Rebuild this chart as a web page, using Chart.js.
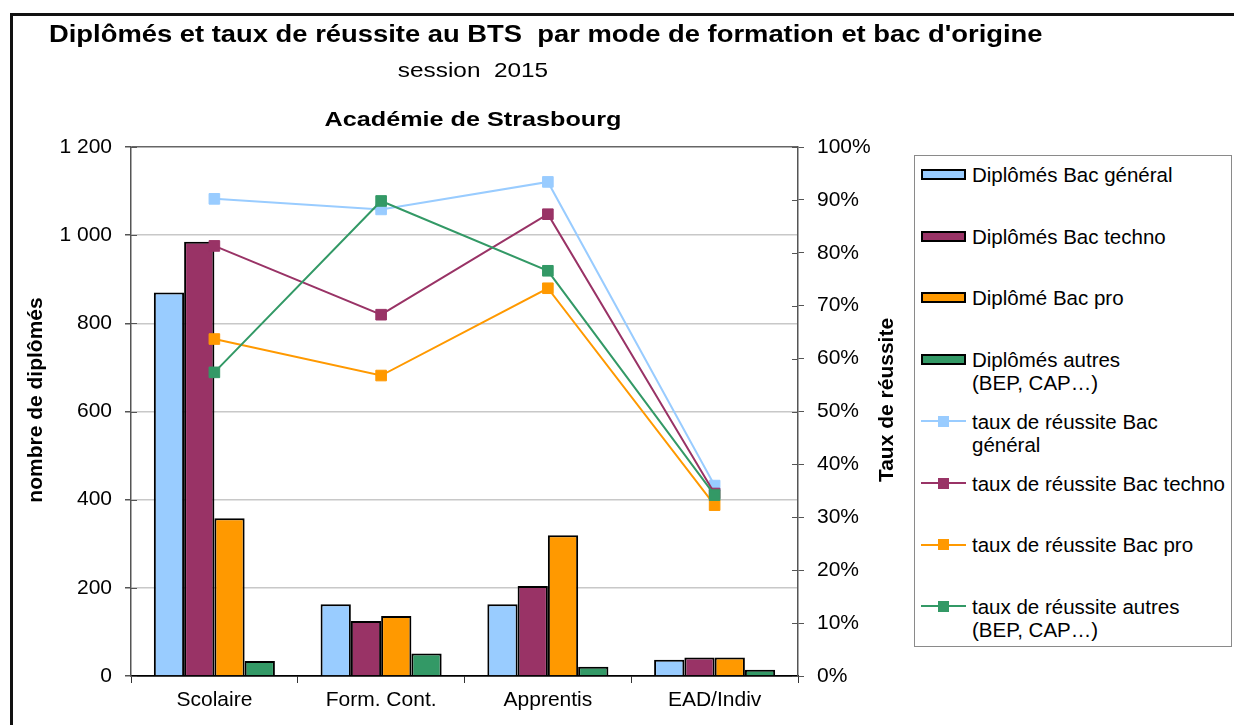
<!DOCTYPE html>
<html lang="fr">
<head>
<meta charset="utf-8">
<title>Diplômés et taux de réussite au BTS</title>
<script src="https://cdn.jsdelivr.net/npm/chart.js@4.4.1/dist/chart.umd.min.js"></script>
<style>
  html, body { margin: 0; padding: 0; background: #fff; }
  body { width: 1234px; height: 725px; position: relative; overflow: hidden; font-family: 'Liberation Sans', Arial, sans-serif; color: #000; }
  #frame { position: absolute; left: 10px; top: 13px; width: 1240px; height: 730px; border: 3px solid #111; box-sizing: border-box; }
  canvas { position: absolute; left: 0; top: 0; }
  .head { position: absolute; white-space: nowrap; }
  #t1 { left: 49px; top: 21px; font-size: 23px; font-weight: bold; line-height: 26px; transform-origin: 0 50%; transform: scaleX(1.19); }
  #t2 { left: 473px; top: 58px; font-size: 21px; line-height: 24px; transform: translateX(-50%) scaleX(1.16); }
  #t3 { left: 473px; top: 107px; font-size: 21px; font-weight: bold; line-height: 24px; transform: translateX(-50%) scaleX(1.2); }
  #legend { position: absolute; left: 914px; top: 155px; width: 318px; height: 492px; border: 1px solid #8a8a8a; box-sizing: border-box; background: #fff; }
  .item { position: absolute; left: 6px; }
  .sym { position: absolute; left: 0; top: 6px; width: 45px; height: 11px; }
  .txt { position: absolute; left: 51px; top: 0; font-size: 20.5px; line-height: 23px; white-space: pre; }
</style>
</head>
<body>
<div id="frame"></div>
<canvas id="chart" width="1234" height="725"></canvas>
<div class="head" id="t1">Diplômés et taux de réussite au BTS&nbsp; par mode de formation et bac d'origine</div>
<div class="head" id="t2">session&nbsp; 2015</div>
<div class="head" id="t3">Académie de Strasbourg</div>
<div id="legend"></div>

<script>
// modes de formation
const categories = ['Scolaire', 'Form. Cont.', 'Apprentis', 'EAD/Indiv'];

// nombre de diplômés par bac d'origine
const diplGeneral = [870, 163, 163, 37];
const diplTechno = [985, 125, 204, 42];
const diplPro = [358, 136, 319, 42];
const diplAutres = [34, 51, 21, 14];

// taux de réussite (%) par bac d'origine
const tauxGeneral = [90.2, 88.2, 93.4, 36.0];
const tauxTechno = [81.3, 68.3, 87.3, 34.5];
const tauxPro = [63.7, 56.8, 73.3, 32.3];
const tauxAutres = [57.4, 89.8, 76.6, 34.2];

const countTicks = [0, 200, 400, 600, 800, 1000, 1200];
const rateTicks = [0, 10, 20, 30, 40, 50, 60, 70, 80, 90, 100];

const BLUE = '#99ccff', PLUM = '#993366', ORANGE = '#ff9900', GREEN = '#339966';
const FONT = "'Liberation Sans', Arial, sans-serif";

Chart.defaults.font.family = FONT;
Chart.defaults.color = '#000';

function barSet(label, data, color) {
  return {
    type: 'bar', label, data, yAxisID: 'y', order: 10,
    backgroundColor: color, borderColor: '#000', borderWidth: 2,
    barPercentage: 1, categoryPercentage: 0.726
  };
}

function lineSet(label, data, color, order) {
  return {
    type: 'line', label, data, yAxisID: 'y1', order,
    borderColor: color, backgroundColor: color, borderWidth: 2, tension: 0,
    pointStyle: 'rect', pointRadius: 7.5, pointHoverRadius: 7.5,
    pointBackgroundColor: color, pointBorderColor: color, pointBorderWidth: 1
  };
}

// petits traits intérieurs des graduations (marques "croisées")
const innerTicks = {
  id: 'innerTicks',
  afterDraw(chart) {
    const ctx = chart.ctx;
    ctx.save();
    ctx.strokeStyle = '#555';
    ctx.lineWidth = 1;
    const y = chart.scales.y, y1 = chart.scales.y1;
    y.ticks.forEach(t => {
      const p = Math.round(y.getPixelForValue(t.value)) + 0.5;
      ctx.beginPath(); ctx.moveTo(y.right, p); ctx.lineTo(y.right + 6, p); ctx.stroke();
    });
    y1.ticks.forEach(t => {
      const p = Math.round(y1.getPixelForValue(t.value)) + 0.5;
      ctx.beginPath(); ctx.moveTo(y1.left - 6, p); ctx.lineTo(y1.left, p); ctx.stroke();
    });
    ctx.restore();
  }
};

// titres des deux axes verticaux, lus de bas en haut
const axisTitles = {
  id: 'axisTitles',
  afterDraw(chart) {
    const ctx = chart.ctx;
    const mid = 400;
    ctx.save();
    ctx.font = 'bold 21px ' + FONT;
    ctx.fillStyle = '#000';
    ctx.textAlign = 'center';
    ctx.textBaseline = 'middle';
    [[36, 'nombre de diplômés'], [887, 'Taux de réussite']].forEach(([x, text]) => {
      ctx.save();
      ctx.translate(x, mid);
      ctx.rotate(-Math.PI / 2);
      ctx.fillText(text, 0, 0);
      ctx.restore();
    });
    ctx.restore();
  }
};

const chart = new Chart(document.getElementById('chart'), {
  data: {
    labels: categories,
    datasets: [
      barSet('Diplômés Bac général', diplGeneral, BLUE),
      barSet('Diplômés Bac techno', diplTechno, PLUM),
      barSet('Diplômé Bac pro', diplPro, ORANGE),
      barSet('Diplômés autres\n(BEP, CAP…)', diplAutres, GREEN),
      lineSet('taux de réussite Bac\ngénéral', tauxGeneral, BLUE, 4),
      lineSet('taux de réussite Bac techno', tauxTechno, PLUM, 3),
      lineSet('taux de réussite Bac pro', tauxPro, ORANGE, 2),
      lineSet('taux de réussite autres\n(BEP, CAP…)', tauxAutres, GREEN, 1)
    ]
  },
  options: {
    responsive: false,
    animation: false,
    devicePixelRatio: 1,
    layout: { padding: { left: 0, top: 147, right: 336, bottom: 9 } },
    plugins: { legend: { display: false }, tooltip: { enabled: false } },
    scales: {
      x: {
        afterFit: s => { s.height = 40; },
        grid: { offset: true, drawOnChartArea: false, tickLength: 7, color: '#333' },
        border: { color: '#000', width: 1.5 },
        ticks: { padding: 5, font: { size: 21 } }
      },
      y: {
        position: 'left', min: 0, max: 1200,
        afterFit: s => { s.width = 131; },
        afterBuildTicks: s => { s.ticks = countTicks.map(v => ({ value: v })); },
        grid: {
          color: c => c.tick.value === 1200 ? '#666' : (c.tick.value === 0 ? '#000' : '#c8c8c8'),
          lineWidth: 1.5, tickLength: 6, tickColor: '#555'
        },
        border: { color: '#555', width: 1.5 },
        ticks: {
          padding: 13, font: { size: 21 },
          callback: v => String(v).replace(/\B(?=(\d{3})+(?!\d))/g, ' ')
        }
      },
      y1: {
        position: 'right', min: 0, max: 100,
        afterFit: s => { s.width = 100; },
        afterBuildTicks: s => { s.ticks = rateTicks.map(v => ({ value: v })); },
        grid: { drawOnChartArea: false, tickLength: 6, color: '#555' },
        border: { color: '#555', width: 1.5 },
        ticks: { padding: 13, font: { size: 21 }, callback: v => v + '%' }
      }
    }
  },
  plugins: [innerTicks, axisTitles]
});

// légende construite à partir des séries du graphique
const legend = document.getElementById('legend');
chart.data.datasets.forEach((ds, i) => {
  const item = document.createElement('div');
  item.className = 'item';
  item.style.top = (7 + i * 61.7) + 'px';
  const sym = document.createElement('div');
  sym.className = 'sym';
  if (ds.type === 'bar') {
    sym.style.background = ds.backgroundColor;
    sym.style.border = '2px solid #000';
    sym.style.boxSizing = 'border-box';
  } else {
    sym.innerHTML =
      '<div style="position:absolute;left:0;right:0;top:4.5px;height:2px;background:' + ds.borderColor + '"></div>' +
      '<div style="position:absolute;left:17px;top:0;width:11px;height:11px;background:' + ds.borderColor + '"></div>';
  }
  const txt = document.createElement('div');
  txt.className = 'txt';
  txt.textContent = ds.label;
  item.appendChild(sym);
  item.appendChild(txt);
  legend.appendChild(item);
});
</script>
</body>
</html>
